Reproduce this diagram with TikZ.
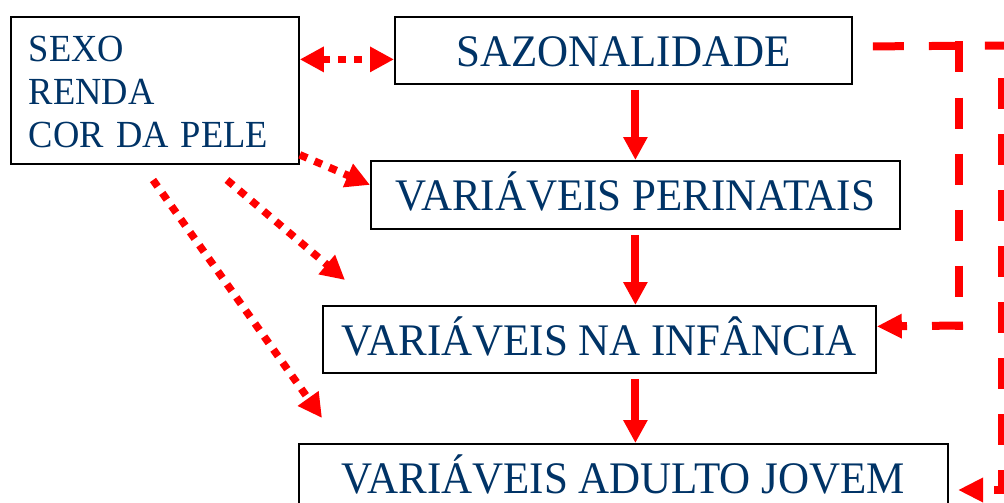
\documentclass[tikz,border=0pt]{standalone}
\usepackage{fontspec}
\setmainfont{Liberation Serif}
\usetikzlibrary{arrows.meta}
\definecolor{txtblue}{RGB}{0,51,102}
\definecolor{arrred}{RGB}{255,0,0}
\newcommand\stretchtxt[1]{\scalebox{1}[1.05]{#1}}
\begin{document}
\begin{tikzpicture}[x=1pt,y=-1pt,
  boxnode/.style={draw=black, line width=1.8pt, text=txtblue, inner sep=0pt, anchor=north west,
    font=\fontsize{43}{50}\selectfont, text height=32pt, text depth=0pt},
  solidarrow/.style={draw=arrred, line width=8pt, -{Triangle[length=23pt,width=23pt]}, shorten <=5pt},
  dotarrow/.style={draw=arrred, line width=7.5pt, dash pattern=on 8pt off 8pt, -{Triangle[length=24pt,width=24pt]}},
  dashln/.style={draw=arrred, line width=8pt, dash pattern=on 31pt off 25pt},
  dashtip/.style={-{Triangle[length=25pt,width=23pt]}}
]
\useasboundingbox (0,0) rectangle (1004,503);

% boxes
\node[draw=black, line width=1.8pt, text=txtblue, anchor=north west, inner xsep=18pt, inner ysep=0pt,
      text width=252pt, align=left, minimum width=288pt, minimum height=147pt,
      font=\fontsize{36.5}{43}\selectfont] (soc) at (10,16)
      {\rule{0pt}{29pt}\stretchtxt{SEXO}\\\stretchtxt{RENDA}\\\stretchtxt{COR DA PELE}};
\node[boxnode, minimum width=457pt, minimum height=67pt] (saz) at (394,16) {\stretchtxt{SAZONALIDADE}};
\node[boxnode, minimum width=529pt, minimum height=68pt] (peri) at (370,160) {\stretchtxt{VARIÁVEIS PERINATAIS}};
\node[boxnode, minimum width=553pt, minimum height=67pt] (inf) at (322,305) {\stretchtxt{VARIÁVEIS NA INFÂNCIA}};
\node[boxnode, minimum width=649pt, minimum height=67pt] (adult) at (298,443) {\stretchtxt{VARIÁVEIS ADULTO JOVEM}};

% solid arrows
\draw[solidarrow] (saz.south -| peri.north) -- (peri.north);
\draw[solidarrow] (peri.south) -- (peri.south |- inf.north);
\draw[solidarrow] (inf.south -| peri.south) -- (adult.north -| peri.south);

% dotted arrows
\coordinate (sazl) at ([yshift=-9pt]saz.west);
\draw[dotarrow, {Triangle[length=24pt,width=24pt]}-{Triangle[length=24pt,width=24pt]}] (soc.east |- sazl) -- (sazl);
\draw[dotarrow] ([yshift=10pt]soc.south east) -- ([yshift=10pt]peri.west);
\coordinate (d1s) at (227,180);
\coordinate (d1e) at (345,280);
\draw[dotarrow] (d1s) -- (d1e);
\coordinate (d2s) at (153,180);
\coordinate (d2e) at (322,418);
\draw[dotarrow] (d2s) -- (d2e);

% dashed connectors
\coordinate (ds) at ([xshift=20pt,yshift=4pt]saz.east);
\coordinate (dtr) at (1005.5,45.5);
\draw[dashln] (ds) -- (dtr);
\coordinate (v1t) at (959,41.5);
\coordinate (v1b) at (959,329.5);
\draw[dashln] (v1t) -- (v1b);
\coordinate (h1s) at (963,325.5);
\coordinate (infr) at ([yshift=13pt]inf.east);
\draw[dashln, dashtip] (h1s) -- (infr);
\coordinate (v2t) at (1001.5,53);
\coordinate (v2b) at (1001.5,494);
\draw[dashln, dash phase=31pt] (v2t) -- (v2b);
\coordinate (h2s) at (1005.5,490);
\coordinate (h2e) at (958,490);
\draw[dashln, dash phase=19pt, dashtip] (h2s) -- (h2e);
\end{tikzpicture}
\end{document}
